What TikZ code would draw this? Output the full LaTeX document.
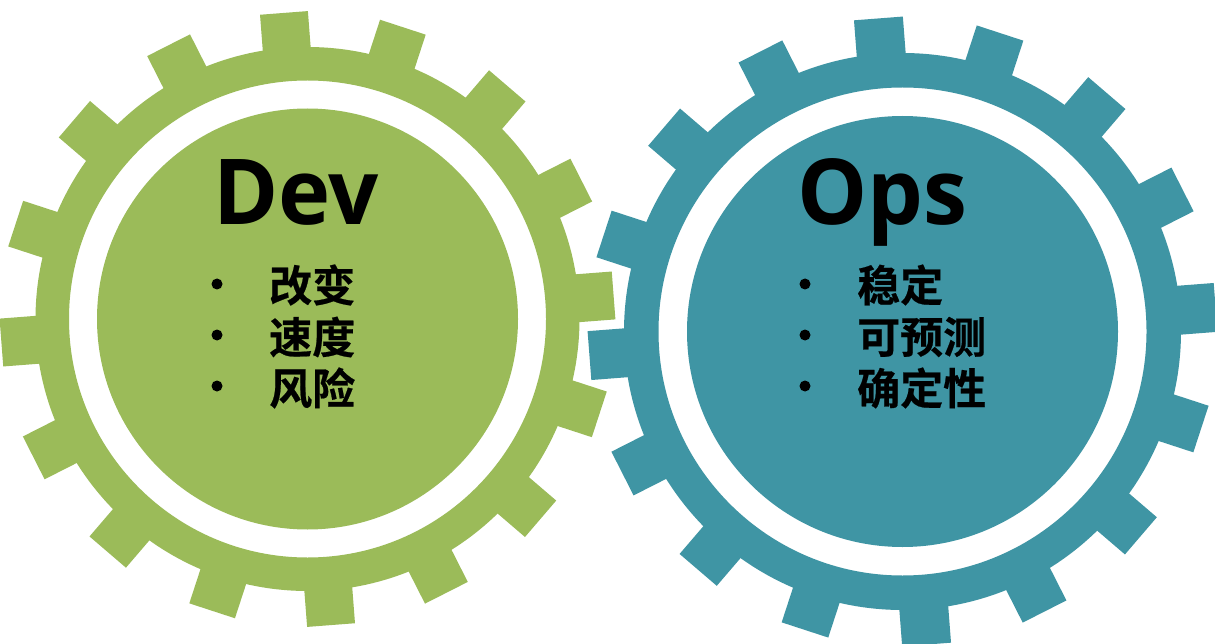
\documentclass[tikz,border=0pt]{standalone}
\usepackage{fontspec}
\setmainfont{Open Sans}[BoldFont={Open Sans Bold}]
\newfontfamily\cjk[FakeBold=0.5]{Noto Sans CJK SC Bold}
\definecolor{devgreen}{HTML}{9BBB59}
\definecolor{opsteal}{HTML}{3F95A4}
\tikzset{
  x=1pt,y=-1pt,
  headtext/.style={font=\bfseries\fontsize{91}{91}\selectfont,text=black,inner sep=0pt,anchor=base west,xscale=.97,transform shape},
  itemtext/.style={font=\cjk\fontsize{43}{43}\selectfont,text=black,inner sep=0pt,anchor=west},
  bulletmark/.style={circle,fill=black,minimum size=11pt,inner sep=0pt},
}
\newcommand{\drawgear}[8]{% cx cy rOut rBase rInner rDisc colour halfToothWidth
  \fill[#7,even odd rule] (#1,#2) circle[radius=#4] (#1,#2) circle[radius=#5];
  \fill[#7] (#1,#2) circle[radius=#6];
  \foreach \k in {0,...,15}{
    \pgfmathsetmacro{\ang}{94.4+22.5*\k}
    \begin{scope}[shift={(#1,#2)},rotate=\ang]
      \fill[#7] (#4-4,-#8) rectangle (#3,#8);
    \end{scope}
  }
}
\begin{document}
\begin{tikzpicture}
\useasboundingbox (0,0) rectangle (1215,644);
\fill[white] (0,0) rectangle (1215,644);
\drawgear{307.5}{319}{307}{272}{238.5}{210.5}{devgreen}{24}
\drawgear{902.5}{331.5}{314}{278.5}{244}{215.5}{opsteal}{24.5}
\node[headtext] (dev) at (213,225) {Dev};
\node[headtext] (ops) at (797,225) {Ops};
\node[bulletmark] (b1) at (217,284) {};
\node[bulletmark] (b2) at (217,335) {};
\node[bulletmark] (b3) at (217,386) {};
\node[itemtext] (t1) at (269,285) {改变};
\node[itemtext] (t2) at (269,337) {速度};
\node[itemtext] (t3) at (269,388) {风险};
\node[bulletmark] (c1) at (805,284) {};
\node[bulletmark] (c2) at (805,335) {};
\node[bulletmark] (c3) at (805,386) {};
\node[itemtext] (u1) at (857,285) {稳定};
\node[itemtext] (u2) at (857,337) {可预测};
\node[itemtext] (u3) at (857,388) {确定性};
\end{tikzpicture}
\end{document}
